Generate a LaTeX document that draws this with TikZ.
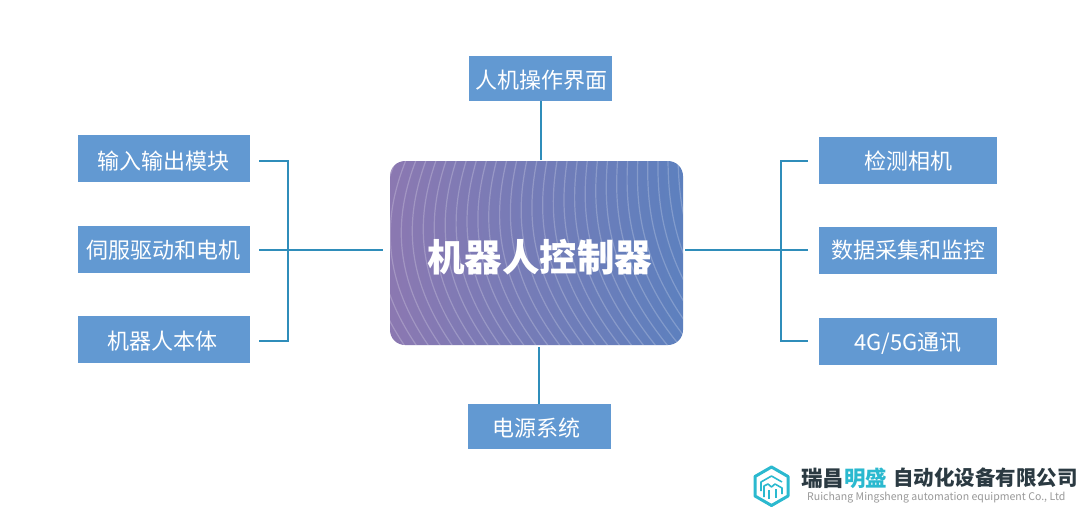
\documentclass[tikz,border=0pt]{standalone}
\usepackage{fontspec}
\setmainfont{Noto Sans CJK SC}
\definecolor{boxblue}{HTML}{6299D2}
\definecolor{linkblue}{HTML}{2F8DBA}
\definecolor{leftpurple}{HTML}{8B78B1}
\definecolor{rightblue}{HTML}{5D80BE}
\definecolor{logoteal}{HTML}{2BB9CF}
\definecolor{logotext}{HTML}{2B3A42}
\newcommand\nudge[3]{\raisebox{\dimexpr-8.5pt-#2\relax}[0pt][0pt]{\makebox[0pt][c]{\hspace*{#1}\hspace*{#1}#3}}}
\tikzset{
  itembox/.style={fill=boxblue,text=white,inner sep=0pt,minimum height=47pt,font=\fontsize{22}{24}\selectfont},
  panel/.style={rounded corners=15pt,left color=leftpurple,right color=rightblue,inner sep=0pt,minimum width=293pt,minimum height=184pt},
  link/.style={draw=linkblue,line width=2pt},
  wave/.style={draw=white,draw opacity=0.22,line width=1.2pt},
  logoline/.style={draw=logoteal,line width=1.6pt,line join=round},
}
\begin{document}
\begin{tikzpicture}[x=1pt,y=-1pt]
\useasboundingbox (0,0) rectangle (1080,509);
\fill[white] (0,0) rectangle (1080,509);
% item boxes
\node[itembox,minimum width=172pt] (in) at (164,158.5) {\nudge{-1pt}{2.5pt}{输入输出模块}};
\node[itembox,minimum width=172pt] (servo) at (164,249.5) {\nudge{-1pt}{0pt}{伺服驱动和电机}};
\node[itembox,minimum width=172pt] (robot) at (164,339.5) {\nudge{-2pt}{1.5pt}{机器人本体}};
\node[itembox,minimum width=178pt] (cam) at (908,160.5) {\nudge{0pt}{0.5pt}{检测相机}};
\node[itembox,minimum width=178pt] (data) at (908,250.5) {\nudge{0pt}{-0.5pt}{数据采集和监控}};
\node[itembox,minimum width=178pt] (net) at (908,341.5) {\nudge{0pt}{0pt}{4G/5G通讯}};
\node[itembox,minimum width=143pt,minimum height=45pt] (hmi) at (540.5,78.5) {\nudge{0.5pt}{1.5pt}{人机操作界面}};
\node[itembox,minimum width=143pt,minimum height=45pt] (power) at (539.5,426.5) {\nudge{-3.5pt}{1.5pt}{电源系统}};
% central panel
\node[panel] (ctrl) at (536.5,253) {};
\begin{scope}
\clip[rounded corners=15pt] (ctrl.south west) rectangle (ctrl.north east);
\foreach \k in {-4,...,30}{
  \draw[wave] ({418+10*\k},155) .. controls ({398+10.8*\k},205) and ({385+11.5*\k},270) .. ({445+12*\k},352);
}
\end{scope}
\node[inner sep=0pt,text=white,font=\fontsize{37.5}{40}\selectfont\bfseries] (ctrltext) at (539.5,257) {机器人控制器};
% connectors
\coordinate (ltop) at ([xshift=9pt,yshift=-2pt]in.east);
\coordinate (lmid) at ([xshift=9pt,yshift=-0.5pt]servo.east);
\coordinate (lbot) at ([xshift=9pt,yshift=-1.5pt]robot.east);
\coordinate (rtop) at ([xshift=-11pt]cam.west);
\coordinate (rmid) at ([xshift=-11pt,yshift=0.5pt]data.west);
\coordinate (rbot) at ([xshift=-11pt,yshift=0.5pt]net.west);
\coordinate (ledge) at (ctrl.west |- lmid);
\coordinate (redge) at (ctrl.east |- rmid);
\coordinate (ljoin) at ([xshift=-7pt]ledge);
\coordinate (rjoin) at ([xshift=2pt]redge);
\coordinate (ltrunk) at (288,250);
\coordinate (rtrunk) at (781,250);
\coordinate (hmix) at (541,130);
\coordinate (powx) at (539,375);
\coordinate (hmitop) at (hmix |- ctrl.north);
\coordinate (powtop) at (powx |- ctrl.south);
\draw[link] (ltop) -- (ltop -| ltrunk) -- (lbot -| ltrunk) -- (lbot);
\draw[link] (lmid) -- (ljoin);
\draw[link] (rtop) -- (rtop -| rtrunk) -- (rbot -| rtrunk) -- (rbot);
\draw[link] (rjoin) -- (rmid);
\draw[link] (hmix |- hmi.south) -- ([yshift=1pt]hmitop);
\draw[link] ([yshift=-2pt]powtop) -- (powx |- power.north);
% logo
\draw[draw=logoteal,line width=3pt,line join=round] (771.5,467) -- (788,476.5) -- (788,496) -- (771.5,505.5) -- (755,496) -- (755,476.5) -- cycle;
\draw[logoline] (761,491) -- (761,482) -- (771.5,476) -- (782,482);
\draw[logoline] (764,497) -- (764,486) -- (768,484) -- (771.5,487) -- (775,484) -- (782,488) -- (782,494);
\draw[logoline] (769,490) -- (769,499) (776,489) -- (776,498);
\node[anchor=west,inner sep=0pt,text=logotext,font=\fontsize{21.5}{24}\selectfont\bfseries] (name1) at (801,478) {瑞昌};
\node[anchor=west,inner sep=0pt,text=logoteal,font=\fontsize{21.5}{24}\selectfont\bfseries] (name2) at (844,478) {明盛};
\node[anchor=west,inner sep=0pt,text=logotext,font=\fontsize{20.5}{24}\selectfont\bfseries] (name3) at (893,478) {自动化设备有限公司};
\node[anchor=west,inner sep=0pt,text=gray!80,font=\fontsize{10.55}{13}\selectfont] (name4) at (807,497.5) {Ruichang Mingsheng automation equipment Co., Ltd};
\end{tikzpicture}
\end{document}
